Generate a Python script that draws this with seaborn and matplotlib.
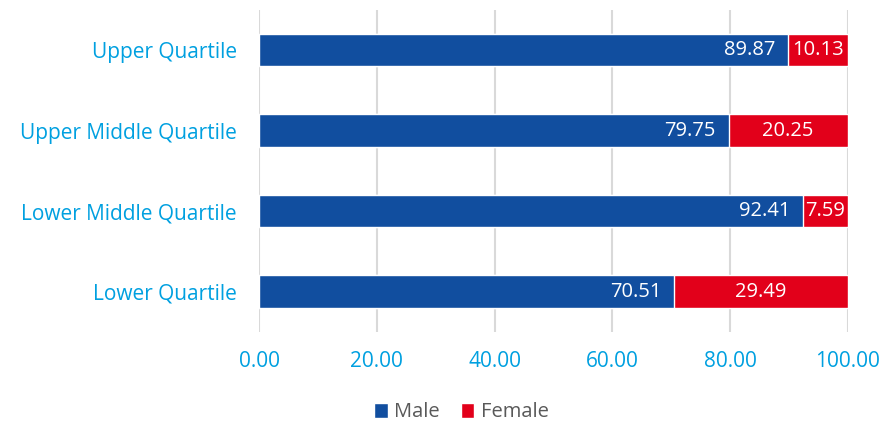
import pandas as pd
import numpy as np
import matplotlib.pyplot as plt
import seaborn as sns

quartiles = ['Upper Quartile', 'Upper Middle Quartile', 'Lower Middle Quartile', 'Lower Quartile']
male = [89.87, 79.75, 92.41, 70.51]
female = [10.13, 20.25, 7.59, 29.49]
x_ticks = [0, 20, 40, 60, 80, 100]

BLUE = '#114E9F'
RED = '#E2001A'
LABEL = '#00A0E0'

sns.set_style('white')
plt.rcParams['font.family'] = ['Open Sans', 'DejaVu Sans']

df = pd.DataFrame({'quartile': quartiles, 'male': male, 'female': female})
df['total'] = df['male'] + df['female']

fig = plt.figure(figsize=(8.84, 4.26), dpi=100)
ax = fig.add_axes([0.293, 0.221, 0.666, 0.756])

# stacked: total in red underneath, male in blue on top
sns.barplot(data=df, y='quartile', x='total', color=RED, width=0.4,
            saturation=1, ax=ax, zorder=2, label='Female')
sns.barplot(data=df, y='quartile', x='male', color=BLUE, width=0.4,
            saturation=1, ax=ax, zorder=3, label='Male')

for i, row in df.iterrows():
    ax.text(row['male'] - 2.2, i, f"{row['male']:.2f}", color='white',
            ha='right', va='center', fontsize=14.5, zorder=4)
    ax.text(row['male'] + row['female'] / 2, i, f"{row['female']:.2f}",
            color='white', ha='center', va='center', fontsize=14.5, zorder=4)

ax.set_xlim(0, 100)
ax.set_ylim(3.5, -0.5)
ax.set_xticks(x_ticks)
ax.set_xticklabels([f'{v:.2f}' for v in x_ticks])
ax.xaxis.grid(True, color='#D9D9D9', linewidth=1.5, zorder=0)
ax.set_axisbelow(True)
ax.tick_params(axis='x', length=0, pad=14, labelsize=15, labelcolor=LABEL)
ax.tick_params(axis='y', length=0, pad=16, labelsize=15, labelcolor=LABEL)
ax.set_xlabel('')
ax.set_ylabel('')
for s in ax.spines.values():
    s.set_visible(False)

handles, labels = ax.get_legend_handles_labels()
order = [labels.index('Male'), labels.index('Female')]
ax.legend([handles[k] for k in order], [labels[k] for k in order],
          loc='center', bbox_to_anchor=(0.522, 0.032), bbox_transform=fig.transFigure,
          ncol=2, frameon=False, fontsize=14.5, handlelength=0.65, handleheight=0.75,
          handletextpad=0.3, columnspacing=1.1, labelcolor='#595959',
          borderpad=0, borderaxespad=0)

fig.savefig('out.png', dpi=100)
